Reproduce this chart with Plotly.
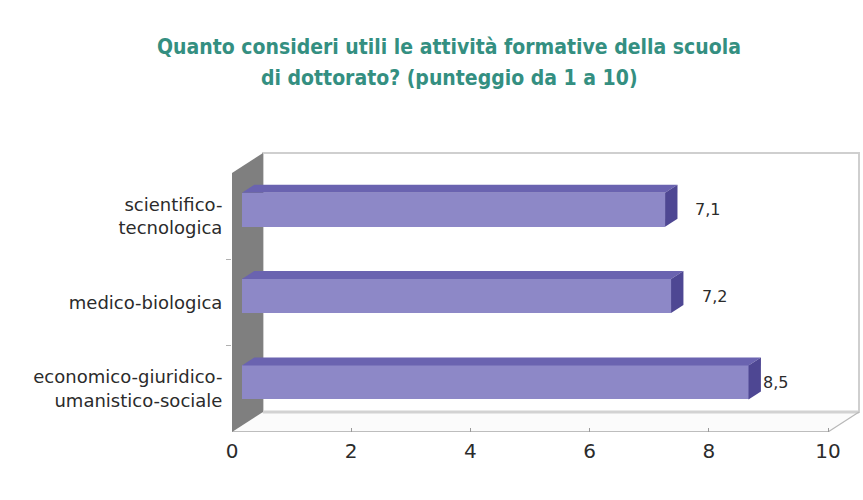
import plotly.graph_objects as go

# ---------------- data ----------------
categories = ["economico-giuridico-<br>umanistico-sociale", "medico-biologica", "scientifico-<br>tecnologica"]
values = [8.5, 7.2, 7.1]
value_labels = ["8,5", "7,2", "7,1"]
x_ticks = [0, 2, 4, 6, 8, 10]
title_lines = ["Quanto consideri utili le attività formative della scuola",
               "di dottorato? (punteggio da 1 a 10)"]

# ---------------- style / geometry ----------------
DX, DY = 0.52, 0.2317        # full depth offset in axis units
D1, D2 = 0.32, 0.72          # bar depth (front, back) as fraction of full depth
BAR_W = 0.394
FRONT = "#8d88c7"
TOP = "#6a63b0"
END = "#4e4793"
WALL = "#7f7f7f"
TITLE_COLOR = "#348f81"
TEXT = "#2b2b2b"
label_dx = [22, 39, 38]

W, H = 863, 500
ML, MR, MT, MB = 232, 2, 150, 68
PX_X = 59.6
PX_Y = 86.33
x_range = [0, (W - ML - MR) / PX_X]
y_range = [-0.5, -0.5 + (H - MT - MB) / PX_Y]

pos = list(range(len(categories)))
n = len(categories)
y_lo, y_hi = -0.5, n - 0.5
x_max = x_ticks[-1]

fig = go.Figure()

fig.add_trace(go.Bar(
    x=values,
    y=[p + D1 * DY for p in pos],
    base=[D1 * DX] * n,
    orientation="h",
    width=BAR_W,
    marker=dict(color=FRONT, line=dict(width=0)),
    hoverinfo="skip",
    showlegend=False,
))

shapes = []
# back plane
shapes.append(dict(type="rect", xref="x", yref="y", x0=DX, x1=x_max + DX, y0=y_lo + DY, y1=y_hi + DY,
                   fillcolor="white", line=dict(color="#cfcfcf", width=2), layer="below"))
# floor
shapes.append(dict(type="path", xref="x", yref="y",
                   path=f"M0,{y_lo} L{x_max},{y_lo} L{x_max+DX},{y_lo+DY} L{DX},{y_lo+DY} Z",
                   fillcolor="#fbfbfb", line=dict(width=0), layer="below"))
shapes.append(dict(type="line", xref="x", yref="y", x0=DX, x1=x_max + DX, y0=y_lo + DY, y1=y_lo + DY,
                   line=dict(color="#d2d2d2", width=3), layer="below"))
shapes.append(dict(type="line", xref="x", yref="y", x0=0, x1=x_max, y0=y_lo, y1=y_lo,
                   line=dict(color="#a8a8a8", width=1.5), layer="below"))
shapes.append(dict(type="line", xref="x", yref="y", x0=x_max, x1=x_max + DX, y0=y_lo, y1=y_lo + DY,
                   line=dict(color="#b8b8b8", width=1.2), layer="below"))
# left wall
shapes.append(dict(type="path", xref="x", yref="y",
                   path=f"M0,{y_lo} L0,{y_hi} L{DX},{y_hi+DY} L{DX},{y_lo+DY} Z",
                   fillcolor=WALL, line=dict(width=0), layer="below"))

# 3D faces of bars
for p, v in zip(pos, values):
    x1, x2 = D1 * DX, D2 * DX
    yc1, yc2 = p + D1 * DY, p + D2 * DY
    yt1, yt2 = yc1 + BAR_W / 2, yc2 + BAR_W / 2
    yb1, yb2 = yc1 - BAR_W / 2, yc2 - BAR_W / 2
    shapes.append(dict(type="path", xref="x", yref="y",
                       path=f"M{x1},{yt1} L{v+x1},{yt1} L{v+x2},{yt2} L{x2},{yt2} Z",
                       fillcolor=TOP, line=dict(width=0)))
    shapes.append(dict(type="path", xref="x", yref="y",
                       path=f"M{v+x1},{yb1} L{v+x1},{yt1} L{v+x2},{yt2} L{v+x2},{yb2} Z",
                       fillcolor=END, line=dict(width=0)))

annotations = []
for p, v, lab, dx in zip(pos, values, value_labels, label_dx):
    annotations.append(dict(x=v, y=p + D1 * DY, xref="x", yref="y", text=lab, showarrow=False,
                            xanchor="left", yanchor="middle", xshift=dx,
                            font=dict(family="DejaVu Sans", size=16, color=TEXT)))

title_px = [47, 78]
for line, py in zip(title_lines, title_px):
    annotations.append(dict(x=(449 - ML) / (W - ML - MR), y=(H - MB - py) / (H - MT - MB),
                            xref="paper", yref="paper", text=f"<b>{line}</b>", showarrow=False,
                            xanchor="center", yanchor="middle",
                            font=dict(family="DejaVu Sans Condensed, sans-serif",
                                      size=21, color=TITLE_COLOR)))

fig.update_layout(
    width=W, height=H,
    margin=dict(l=ML, r=MR, t=MT, b=MB, pad=0),
    paper_bgcolor="white", plot_bgcolor="white",
    showlegend=False,
    shapes=shapes,
    annotations=annotations,
    bargap=0,
    xaxis=dict(range=x_range, tickvals=x_ticks, ticktext=[str(t) for t in x_ticks],
               showgrid=False, zeroline=False, showline=False,
               ticks="inside", ticklen=4, tickcolor="#9a9a9a", ticklabelstandoff=5,
               tickfont=dict(family="DejaVu Sans", size=20, color=TEXT), fixedrange=True),
    yaxis=dict(range=y_range, tickvals=pos, ticktext=categories,
               showgrid=False, zeroline=False, showline=False,
               ticks="outside", ticklen=5, tickcolor="rgba(0,0,0,0)",
               minor=dict(tickvals=[0.5, 1.5], ticks="outside", ticklen=5, tickcolor="#b0b0b0"),
               tickfont=dict(family="DejaVu Sans", size=18, color=TEXT), fixedrange=True),
)

fig.write_html("out.html", config={"displayModeBar": False},
               post_script="document.body.style.margin='0';")
